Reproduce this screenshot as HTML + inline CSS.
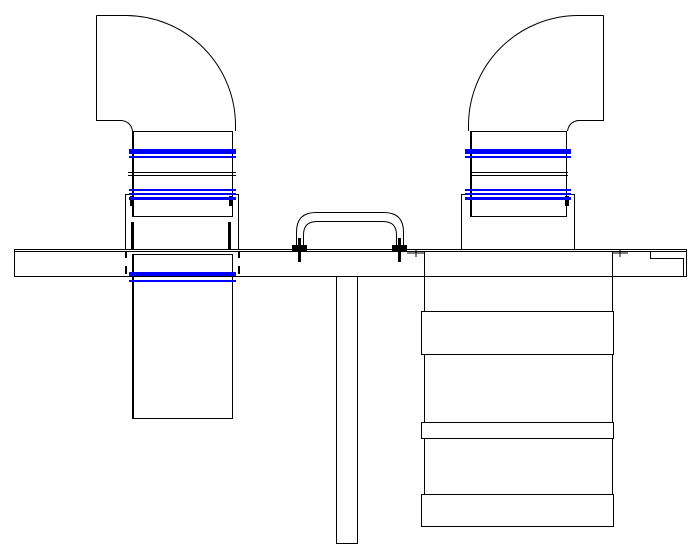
<!DOCTYPE html>
<html><head><meta charset="utf-8"><style>
html,body{margin:0;padding:0;background:#fff;width:700px;height:560px;overflow:hidden}
</style></head><body>
<svg width="700" height="560" viewBox="0 0 700 560" xmlns="http://www.w3.org/2000/svg">
<g fill="none" stroke="#000" stroke-width="1">
<path d="M14.5 249.5H686.5V276.5H14.5Z"/>
<line x1="14" y1="251.5" x2="686" y2="251.5"/>
<path d="M650.5 252V258.5H683.5V276"/>
<rect x="336.5" y="276.5" width="21" height="267"/>
<path d="M424.5 252V527M612.5 252V527"/>
<rect x="421.5" y="311.5" width="192" height="43" fill="#fff"/>
<rect x="421.5" y="422.5" width="192" height="16" fill="#fff"/>
<rect x="421.5" y="494.5" width="192" height="32" fill="#fff"/>
<path d="M407 253H424M416 249V257M612 253H628M620 249V257"/>
<path d="M96.5 15.5H125.5A110 110 0 0 1 235.5 125.5V131"/>
<path d="M96.5 15.5V120.5H122Q131 122 132.5 131"/>
<rect x="132.5" y="131.5" width="100" height="85"/>
<line x1="128" y1="172.5" x2="236" y2="172.5"/>
<line x1="128" y1="175.5" x2="236" y2="175.5"/>
<path d="M125.5 249V194.5H238.5V249"/>
<rect x="132.5" y="254.5" width="100" height="164"/>
<path d="M603.5 15.5H578A110 110 0 0 0 468.5 125.5V131"/>
<path d="M603.5 15.5V120.5H578Q569 122 567.5 131"/>
<rect x="470.5" y="131.5" width="96" height="85"/>
<line x1="470" y1="172.5" x2="568" y2="172.5"/>
<line x1="470" y1="175.5" x2="568" y2="175.5"/>
<path d="M461.5 249V194.5H574.5V249"/>
<path d="M296.5 249V232Q296.5 212.5 316 212.5H384Q403.5 212.5 403.5 232V249"/>
<path d="M303.5 249V235Q303.5 221.5 317 221.5H383Q396.5 221.5 396.5 235V249"/>
</g>
<g fill="#000">
<rect x="132" y="131" width="2" height="86"/><rect x="132" y="254" width="2" height="165"/>
<rect x="470" y="131" width="2" height="86"/>
<rect x="131" y="222" width="3" height="27"/><rect x="228" y="222" width="3" height="27"/>
<rect x="130" y="196" width="3" height="10"/><rect x="229" y="196" width="3" height="10"/>
<rect x="125" y="252" width="2" height="6"/><rect x="238" y="252" width="2" height="6"/>
<rect x="125" y="266" width="2" height="8"/><rect x="238" y="266" width="2" height="8"/>
<rect x="565" y="196" width="4" height="10"/>
<rect x="298" y="238" width="3" height="24"/><rect x="292" y="245" width="15" height="6"/>
<rect x="398" y="238" width="3" height="24"/><rect x="392" y="245" width="15" height="6"/>
</g>
<g fill="#0000ff">
<rect x="129" y="149" width="107" height="5"/><rect x="129" y="156" width="107" height="2"/>
<rect x="129" y="189" width="107" height="2"/><rect x="129" y="193" width="107" height="2"/><rect x="129" y="197" width="107" height="3"/>
<rect x="129" y="272" width="107" height="4"/><rect x="129" y="280" width="107" height="2"/>
<rect x="465" y="149" width="106" height="5"/><rect x="465" y="156" width="106" height="2"/>
<rect x="465" y="189" width="106" height="2"/><rect x="465" y="193" width="106" height="2"/><rect x="465" y="197" width="106" height="3"/>
</g>
</svg>
</body></html>
